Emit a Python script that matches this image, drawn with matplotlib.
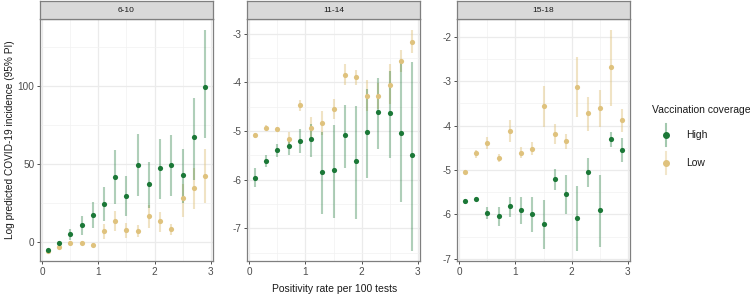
import numpy as np
import matplotlib
matplotlib.use('Agg')
import matplotlib.pyplot as plt
from matplotlib.lines import Line2D

plt.rcParams['font.family'] = ['Liberation Sans', 'DejaVu Sans']
plt.rcParams['axes.unicode_minus'] = False

x = [0.1, 0.3, 0.5, 0.7, 0.9, 1.1, 1.3, 1.5, 1.7, 1.9, 2.1, 2.3, 2.5, 2.7, 2.9]
panels = ['6-10', '11-14', '15-18']

# 6-10
hi1 = [-4.9, -0.6, 5.1, 11.1, 17.4, 24.7, 41.9, 29.8, 49.6, 37.0, 47.7, 49.4, 43.2, 67.4, 98.9]
hi1_lo = [-5.6, -1.8, 1.5, 4.7, 8.9, 13.4, 24.3, 16.6, 29.4, 21.9, 27.9, 29.6, 25.3, 39.6, 66.4]
hi1_hi = [-4.2, 0.8, 8.7, 16.8, 25.7, 35.3, 58.7, 42.3, 69.1, 51.3, 66.0, 68.3, 59.8, 92.3, 135.3]
lo1 = [-5.3, -2.8, -0.2, -0.6, -1.7, 7.4, 13.4, 7.9, 7.2, 17.0, 13.6, 8.3, 28.3, 34.9, 42.6]
lo1_lo = [-6.0, -3.8, -1.3, -1.6, -2.8, 2.3, 7.0, 3.0, 3.2, 8.9, 6.8, 4.7, 16.2, 21.1, 25.3]
lo1_hi = [-4.6, -1.8, 1.0, 0.6, -0.6, 11.7, 20.0, 12.1, 10.9, 24.0, 19.4, 11.7, 37.4, 47.2, 59.4]

# 11-14
hi2 = [-5.96, -5.61, -5.40, -5.30, -5.20, -5.17, -5.85, -5.80, -5.08, -5.61, -5.02, -4.61, -4.64, -5.04, -5.49]
hi2_lo = [-6.14, -5.73, -5.53, -5.49, -5.46, -5.53, -6.71, -6.79, -5.77, -6.81, -5.96, -5.38, -5.56, -6.45, -7.46]
hi2_hi = [-5.77, -5.49, -5.27, -5.17, -4.95, -4.86, -5.03, -4.87, -4.47, -4.49, -4.14, -3.91, -3.77, -3.58, -3.58]
lo2 = [-5.09, -4.93, -4.96, -5.16, -4.47, -4.94, -4.84, -4.54, -3.84, -3.90, -4.28, -4.28, -4.05, -3.56, -3.17]
lo2_lo = [-5.14, -4.98, -5.01, -5.30, -4.59, -5.12, -5.08, -4.75, -4.06, -4.05, -4.58, -4.55, -4.45, -3.78, -3.40]
lo2_hi = [-5.04, -4.88, -4.91, -5.03, -4.36, -4.72, -4.59, -4.34, -3.63, -3.75, -3.95, -4.01, -3.63, -3.34, -2.93]

# 15-18
hi3 = [-5.71, -5.66, -5.96, -6.03, -5.82, -5.90, -5.99, -6.22, -5.21, -5.55, -6.08, -5.05, -5.91, -4.30, -4.55]
hi3_lo = [-5.76, -5.71, -6.11, -6.26, -6.05, -6.21, -6.39, -6.79, -5.45, -6.00, -6.82, -5.39, -6.73, -4.48, -4.82]
hi3_hi = [-5.66, -5.61, -5.84, -5.84, -5.60, -5.61, -5.60, -5.68, -4.97, -5.12, -5.36, -4.72, -5.12, -4.14, -4.28]
lo3 = [-5.05, -4.62, -4.39, -4.73, -4.12, -4.62, -4.52, -3.57, -4.18, -4.35, -3.13, -3.72, -3.60, -2.68, -3.88]
lo3_lo = [-5.10, -4.72, -4.53, -4.82, -4.36, -4.73, -4.67, -4.04, -4.42, -4.52, -3.80, -4.12, -4.04, -3.56, -4.14]
lo3_hi = [-5.00, -4.54, -4.25, -4.64, -3.88, -4.49, -4.37, -3.11, -3.96, -4.18, -2.45, -3.36, -3.19, -1.85, -3.62]

data = [
    (hi1, hi1_lo, hi1_hi, lo1, lo1_lo, lo1_hi),
    (hi2, hi2_lo, hi2_hi, lo2, lo2_lo, lo2_hi),
    (hi3, hi3_lo, hi3_hi, lo3, lo3_lo, lo3_hi),
]
ylims = [(-11.9, 142.6), (-7.67, -2.70), (-7.05, -1.60)]
major = [[0, 50, 100], [-7, -6, -5, -4, -3], [-7, -6, -5, -4, -3, -2]]
minor = [[25, 75, 125], [-7.5, -6.5, -5.5, -4.5, -3.5], [-6.5, -5.5, -4.5, -3.5, -2.5]]

green = '#1b7837'
yellow = '#dfc27d'
W, H = 750, 296
fig = plt.figure(figsize=(7.5, 2.96), dpi=100)
lefts = [40, 247, 457]
width = 173
top, bottom = 19, 261

for i in range(3):
    ax = fig.add_axes([lefts[i] / W, (H - bottom) / H, width / W, (bottom - top) / H])
    hi, hlo, hhi, lo, llo, lhi = data[i]
    xs = np.array(x)
    ax.vlines(xs, llo, lhi, color=yellow, alpha=0.45, lw=1.5, zorder=2)
    ax.vlines(xs, hlo, hhi, color=green, alpha=0.35, lw=1.5, zorder=2)
    ax.scatter(xs, lo, s=14, color=yellow, zorder=3, linewidths=0)
    ax.scatter(xs, hi, s=14, color=green, zorder=3, linewidths=0)
    ax.set_xlim(-0.04, 3.04)
    ax.set_ylim(*ylims[i])
    ax.set_xticks([0, 1, 2, 3])
    ax.set_xticks([0.5, 1.5, 2.5], minor=True)
    ax.set_yticks(major[i])
    ax.set_yticks(minor[i], minor=True)
    ax.grid(which='major', color='#ebebeb', lw=0.9, zorder=0)
    ax.grid(which='minor', color='#f2f2f2', lw=0.5, zorder=0)
    ax.set_axisbelow(True)
    for s in ax.spines.values():
        s.set_color('#7f7f7f')
        s.set_linewidth(0.9)
    ax.tick_params(which='major', length=2.5, width=0.6, color='#333333',
                   labelsize=7.2, labelcolor='#4d4d4d', pad=1.5)
    ax.tick_params(which='minor', length=0)
    # strip
    sax = fig.add_axes([lefts[i] / W, (H - top) / H, width / W, 18 / H])
    sax.set_facecolor('#d9d9d9')
    sax.set_xticks([])
    sax.set_yticks([])
    for s in sax.spines.values():
        s.set_color('#7f7f7f')
        s.set_linewidth(0.9)
    sax.text(0.5, 0.5, panels[i], ha='center', va='center', fontsize=6, color='#1a1a1a',
             transform=sax.transAxes)
    if i == 0:
        ax.set_ylabel('Log predicted COVID-19 incidence (95% PI)', fontsize=7.3,
                      color='#1a1a1a', labelpad=2)

fig.text(335 / W, 1 - 289 / H, 'Positivity rate per 100 tests', ha='center', va='center',
         fontsize=7.5, color='#1a1a1a')

fig.text(652 / W, 1 - 110 / H, 'Vaccination coverage', ha='left', va='center',
         fontsize=7.5, color='#1a1a1a')
for j, (lab, col) in enumerate([('High', green), ('Low', yellow)]):
    yk = 135 + 27.5 * j
    fig.lines.append(Line2D([666 / W, 666 / W], [1 - (yk - 11) / H, 1 - (yk + 11) / H],
                            color=col, alpha=0.4, lw=1.5, transform=fig.transFigure))
    fig.lines.append(Line2D([666 / W], [1 - yk / H], color=col, marker='o', markersize=4,
                            lw=0, transform=fig.transFigure))
    fig.text(686 / W, 1 - yk / H, lab, ha='left', va='center', fontsize=7.5, color='#1a1a1a')

fig.savefig('out.png', dpi=100)
